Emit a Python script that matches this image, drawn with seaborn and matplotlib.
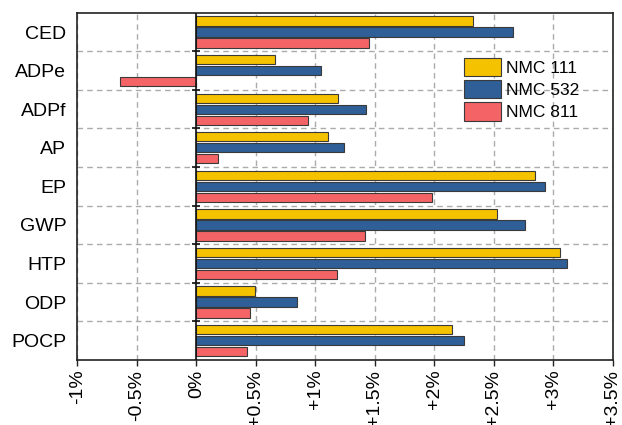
import numpy as np
import pandas as pd
import matplotlib
matplotlib.use("Agg")
import matplotlib.pyplot as plt
import seaborn as sns

# Impact categories (top to bottom) and relative change per cathode chemistry (%)
categories = ["CED", "ADPe", "ADPf", "AP", "EP", "GWP", "HTP", "ODP", "POCP"]
series_names = ["NMC 111", "NMC 532", "NMC 811"]
nmc111 = [2.33, 0.66, 1.19, 1.11, 2.85, 2.53, 3.06, 0.49, 2.15]
nmc532 = [2.66, 1.05, 1.43, 1.24, 2.93, 2.76, 3.12, 0.85, 2.25]
nmc811 = [1.45, -0.64, 0.94, 0.18, 1.98, 1.42, 1.18, 0.45, 0.43]

x_ticks = [-1.0, -0.5, 0.0, 0.5, 1.0, 1.5, 2.0, 2.5, 3.0, 3.5]
x_tick_labels = ["-1%", "-0.5%", "0%", "+0.5%", "+1%", "+1.5%", "+2%",
                 "+2.5%", "+3%", "+3.5%"]

colors = ["#F5C200", "#2F5F96", "#F46466"]

df = pd.DataFrame({
    "category": categories * 3,
    "series": np.repeat(series_names, len(categories)),
    "value": nmc111 + nmc532 + nmc811,
})

sns.set_theme(style="white")
plt.rcParams["font.family"] = ["Liberation Sans", "DejaVu Sans"]
plt.rcParams["text.color"] = "black"
plt.rcParams["xtick.color"] = "black"
plt.rcParams["ytick.color"] = "black"
plt.rcParams["axes.labelcolor"] = "black"

fig = plt.figure(figsize=(6.22, 4.25), dpi=100)
ax = fig.add_axes([0.1243, 0.153, 0.8607, 0.817])

sns.barplot(data=df, y="category", x="value", hue="series", order=categories,
            hue_order=series_names, palette=colors, orient="h", width=0.855,
            gap=0.16, edgecolor="#3a3a3a", linewidth=0.8, saturation=1,
            errorbar=None, ax=ax, zorder=3)

ax.set_xlim(-1.0, 3.5)
ax.set_ylim(len(categories) - 0.5, -0.5)
ax.set_xticks(x_ticks)
ax.set_xticklabels(x_tick_labels, rotation=90, fontsize=14)
ax.tick_params(axis="x", direction="out", length=4, width=1, color="#222222",
               labelcolor="black", bottom=True, pad=3)
ax.tick_params(axis="y", length=0, labelsize=14, labelcolor="black", pad=8)
ax.set_xlabel("")
ax.set_ylabel("")

# dashed grid: vertical at x ticks, horizontal between categories
boundaries = np.arange(0.5, len(categories) - 0.5, 1.0)
ax.set_yticks(boundaries, minor=True)
ax.tick_params(axis="y", which="minor", length=0)
ax.grid(axis="x", which="major", linestyle=(0, (4, 3)), color="#ababab",
        linewidth=1, zorder=0)
ax.grid(axis="y", which="minor", linestyle=(0, (4, 3)), color="#ababab",
        linewidth=1, zorder=0)
ax.grid(axis="y", which="major", visible=False)
ax.set_axisbelow(True)

# zero reference line with small boundary ticks
ax.axvline(0, color="#111111", linewidth=1.2, zorder=4)
ax.plot(np.zeros(len(boundaries)), boundaries, linestyle="none", marker="_",
        markersize=6, markeredgewidth=1.2, color="#111111", zorder=4)

for s in ax.spines.values():
    s.set_visible(True)
    s.set_color("#222222")
    s.set_linewidth(1.2)

leg = ax.legend(loc="upper left", bbox_to_anchor=(0.722, 0.87), frameon=False,
                fontsize=12.5, handlelength=2.13, handleheight=1.25,
                labelspacing=0.22, handletextpad=0.3, borderaxespad=0,
                borderpad=0)
for t in leg.get_texts():
    t.set_color("black")

fig.savefig("out.png", dpi=100)
